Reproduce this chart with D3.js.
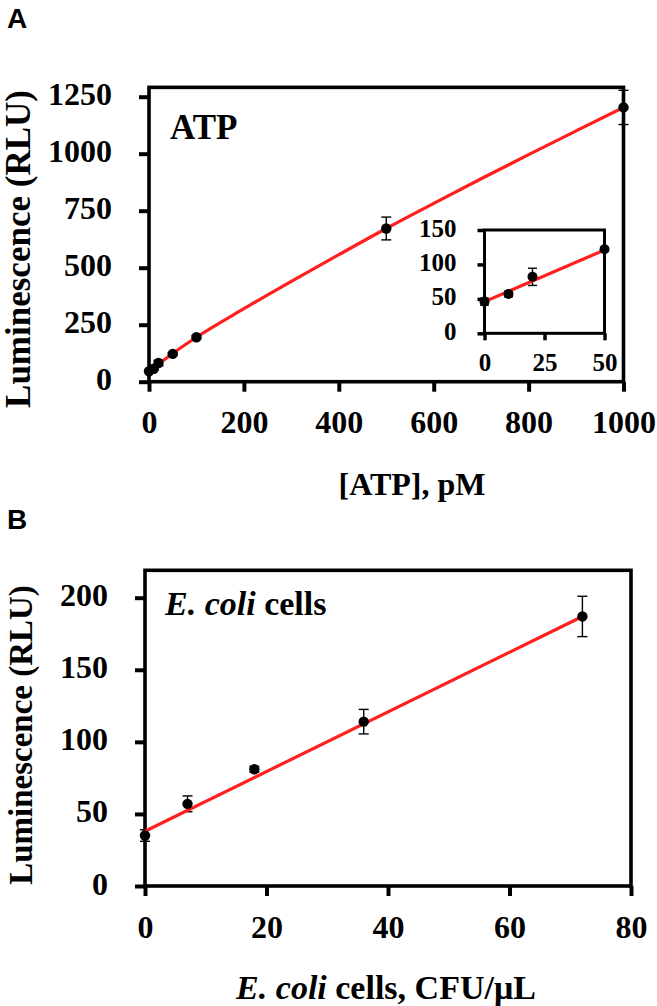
<!DOCTYPE html>
<html><head><meta charset="utf-8">
<script src="https://cdn.jsdelivr.net/npm/d3@7"></script>
<style>body{margin:0;background:#fff} svg{display:block}</style>
</head><body>
<svg id="c" width="657" height="1006"></svg>
<script>
// ---------- data ----------
const atpX   = [0, 10, 20, 50, 100, 500, 1000];
const atpY   = [46, 57, 82, 122, 195, 672, 1203];
const atpErr = [5, 4, 12, 4, 8, 50, 75];
const atpFitX = [0, 50, 100, 200, 300, 400, 500, 600, 700, 800, 900, 1000];
const atpFitY = [45, 124, 195, 320, 440, 557, 672, 782, 890, 996, 1100, 1203];
const insetX   = [0, 10, 20, 50];
const insetY   = [46, 57, 82, 122];
const insetErr = [5, 4, 12.5, 3];
const insetFitX = [0, 50];
const insetFitY = [46, 121];
const ecoliX   = [0, 7, 18, 36, 72];
const ecoliY   = [35, 57, 81, 114, 187];
const ecoliErr = [4, 5.5, 2, 8.5, 14];
const ecoliFitX = [0, 72];
const ecoliFitY = [38, 187];
const atpXTicks = [0, 200, 400, 600, 800, 1000];
const atpYTicks = [0, 250, 500, 750, 1000, 1250];
const insetXTicks = [0, 25, 50];
const insetYTicks = [0, 50, 100, 150];
const ecoliXTicks = [0, 20, 40, 60, 80];
const ecoliYTicks = [0, 50, 100, 150, 200];

const SERIF = '"Liberation Serif","Times New Roman",serif';
const SANS = '"Liberation Sans",Arial,sans-serif';
const svg = d3.select('#c');

function panel(o) {
  const g = svg.append('g');
  const x = d3.scaleLinear().domain(o.xDom).range(o.xRange);
  const y = d3.scaleLinear().domain(o.yDom).range(o.yRange);
  const x0 = x(o.xDom[0]), x1 = x(o.xDom[1]);
  const yb = y(0), yt = y(o.yMax);
  // frame
  g.append('rect').attr('x', x0).attr('y', yt).attr('width', x1 - x0).attr('height', yb - yt)
    .attr('fill', '#fff').attr('stroke', '#000').attr('stroke-width', o.frameW);
  // axes
  const ya = g.append('g').attr('transform', `translate(${x0},0)`)
    .call(d3.axisLeft(y).tickValues(o.yTicks).tickSize(o.tickLen).tickFormat(d3.format('d')));
  const xa = g.append('g').attr('transform', `translate(0,${yb})`)
    .call(d3.axisBottom(x).tickValues(o.xTicks).tickSize(o.tickLen).tickFormat(d3.format('d')));
  [ya, xa].forEach(a => {
    a.attr('font-family', SERIF).attr('font-size', o.fs).attr('font-weight', 'bold');
    a.select('.domain').remove();
    a.selectAll('line').attr('stroke', '#000').attr('stroke-width', o.tickW);
    a.selectAll('text').attr('fill', '#000').style('font-family', SERIF)
      .style('font-weight', 'bold').style('font-size', o.fs + 'px');
  });
  ya.selectAll('text').attr('x', -o.yLabOff).attr('dy', null).attr('y', o.yLabDy);
  xa.selectAll('text').attr('dy', null).attr('y', o.xLabOff);
  // error bars
  const eb = g.append('g').attr('stroke', '#000').attr('stroke-width', 1.4);
  o.xs.forEach((xv, i) => {
    const cx = x(xv), v = o.ys[i], e = o.errs[i];
    eb.append('line').attr('x1', cx).attr('x2', cx).attr('y1', y(v - e)).attr('y2', y(v + e));
    [v - e, v + e].forEach(t => eb.append('line').attr('x1', cx - o.capW / 2).attr('x2', cx + o.capW / 2)
      .attr('y1', y(t)).attr('y2', y(t)));
  });
  // fit line
  const pts = o.fitX.map((d, i) => [d, o.fitY[i]]);
  g.append('path').datum(pts)
    .attr('d', d3.line().x(d => x(d[0])).y(d => y(d[1])).curve(d3.curveMonotoneX))
    .attr('fill', 'none').attr('stroke', '#ff1f1f').attr('stroke-width', o.lineW);
  // points
  g.append('g').selectAll('circle').data(o.xs).join('circle')
    .attr('cx', d => x(d)).attr('cy', (d, i) => y(o.ys[i])).attr('r', o.r).attr('fill', '#000');
  return g;
}

// Panel A main
panel({xDom: [0, 1000], xRange: [149, 623.5], yDom: [0, 1250], yRange: [381.7, 96.7], yMax: 1291,
  xTicks: atpXTicks, yTicks: atpYTicks, fs: 32, frameW: 3.6, tickLen: 10, tickW: 4,
  yLabOff: 37, yLabDy: 8, xLabOff: 51, xs: atpX, ys: atpY, errs: atpErr,
  fitX: atpFitX, fitY: atpFitY, r: 5.2, capW: 10, lineW: 3.2});

// Inset
panel({xDom: [0, 50], xRange: [484.5, 604.5], yDom: [0, 150], yRange: [333.3, 230], yMax: 150,
  xTicks: insetXTicks, yTicks: insetYTicks, fs: 25, frameW: 3, tickLen: 7, tickW: 3.5,
  yLabOff: 28, yLabDy: 6, xLabOff: 38, xs: insetX, ys: insetY, errs: insetErr,
  fitX: insetFitX, fitY: insetFitY, r: 5, capW: 9, lineW: 3.2});

// Panel B
panel({xDom: [0, 80], xRange: [145, 631], yDom: [0, 200], yRange: [886, 597.7], yMax: 219,
  xTicks: ecoliXTicks, yTicks: ecoliYTicks, fs: 32, frameW: 3.6, tickLen: 10, tickW: 4,
  yLabOff: 37, yLabDy: 8, xLabOff: 52, xs: ecoliX, ys: ecoliY, errs: ecoliErr,
  fitX: ecoliFitX, fitY: ecoliFitY, r: 5.2, capW: 10, lineW: 3.2});

// Texts
const T = (x, y, s, fs) => svg.append('text').attr('x', x).attr('y', y).text(s)
  .style('font-family', SERIF).style('font-weight', 'bold').style('font-size', fs + 'px').attr('fill', '#000');

svg.append('text').attr('x', 7).attr('y', 28).text('A')
  .style('font-family', SANS).style('font-weight', 'bold').style('font-size', '28px');
svg.append('text').attr('x', 7).attr('y', 529).text('B')
  .style('font-family', SANS).style('font-weight', 'bold').style('font-size', '28px');

T(170, 138.5, 'ATP', 35);
const ec = T(165, 615, '', 34);
ec.append('tspan').style('font-style', 'italic').text('E. coli');
ec.append('tspan').text(' cells');

T(0, 0, 'Luminescence (RLU)', 35).attr('x', null).attr('y', null)
  .attr('text-anchor', 'middle').attr('transform', 'translate(30,249) rotate(-90)');
T(0, 0, 'Luminescence (RLU)', 33).attr('x', null).attr('y', null)
  .attr('text-anchor', 'middle').attr('transform', 'translate(32,735) rotate(-90)');

T(412, 495, '[ATP], pM', 32).attr('text-anchor', 'middle');
const xt = T(386, 999, '', 34).attr('text-anchor', 'middle');
xt.append('tspan').style('font-style', 'italic').text('E. coli');
xt.append('tspan').text(' cells, CFU/μL');
</script>
</body></html>
